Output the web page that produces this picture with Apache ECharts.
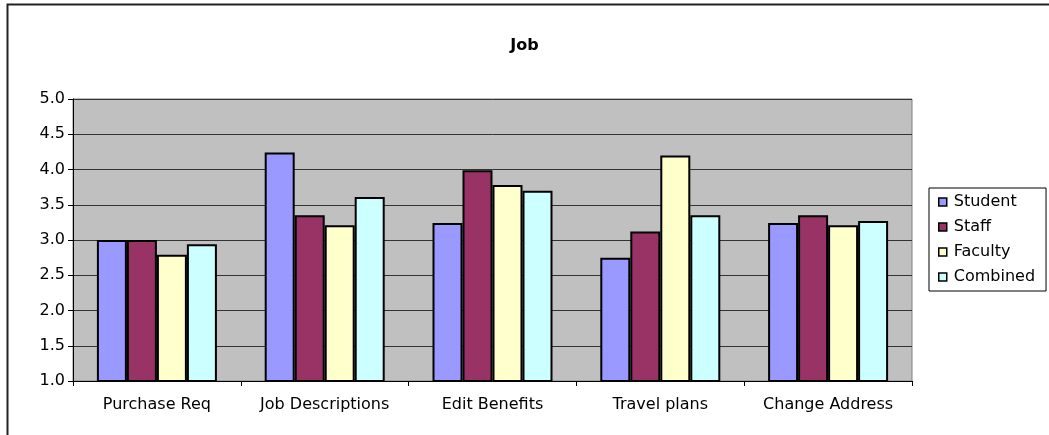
<!DOCTYPE html>
<html>
<head>
<meta charset="utf-8">
<script src="https://cdn.jsdelivr.net/npm/echarts@6/dist/echarts.min.js"></script>
<style>
  html, body { margin: 0; padding: 0; background: #fff; }
  #main { width: 1049px; height: 435px; }
</style>
</head>
<body>
<div id="main"></div>
<script>
// data
var categories = ['Purchase Req', 'Job Descriptions', 'Edit Benefits', 'Travel plans', 'Change Address'];
var student = [3.0, 4.24, 3.24, 2.75, 3.24];
var staff = [3.0, 3.35, 3.99, 3.12, 3.35];
var faculty = [2.79, 3.21, 3.78, 4.20, 3.21];
var combined = [2.94, 3.61, 3.70, 3.35, 3.27];

var font = 'DejaVu Sans, Verdana, sans-serif';

function bar(name, data, color) {
  return {
    name: name,
    type: 'bar',
    data: data,
    barWidth: 30,
    barGap: '0%',
    itemStyle: { color: color, borderColor: '#000', borderWidth: 2 }
  };
}

var myChart = echarts.init(document.getElementById('main'));
myChart.setOption({
  animation: false,
  backgroundColor: '#fff',
  title: {
    text: 'Job',
    left: 'center',
    top: 33,
    textStyle: { fontFamily: font, fontSize: 16, fontWeight: 'bold', color: '#000' }
  },
  graphic: [{
    type: 'rect',
    shape: { x: 7.5, y: 4.5, width: 1100, height: 500 },
    style: { fill: null, stroke: '#222', lineWidth: 2 },
    silent: true
  }],
  legend: {
    orient: 'vertical',
    left: 929,
    top: 188,
    itemWidth: 8,
    itemHeight: 8,
    itemGap: 9,
    padding: [6, 11, 6, 9],
    borderColor: '#000',
    borderWidth: 1,
    icon: 'rect',
    itemStyle: { borderColor: '#000', borderWidth: 1.5 },
    textStyle: { fontFamily: font, fontSize: 16, color: '#000', padding: [0, 0, 0, 2] },
    data: ['Student', 'Staff', 'Faculty', 'Combined']
  },
  grid: {
    left: 73,
    top: 99,
    width: 839,
    height: 282,
    show: true,
    backgroundColor: '#C0C0C0',
    borderColor: '#808080',
    borderWidth: 1
  },
  xAxis: {
    type: 'category',
    data: categories,
    axisLine: { lineStyle: { color: '#000', width: 1 } },
    axisTick: { show: true, interval: 0, inside: false, length: 5, lineStyle: { color: '#000' } },
    axisLabel: { interval: 0, fontFamily: font, fontSize: 16, color: '#000', margin: 16 }
  },
  yAxis: {
    type: 'value',
    min: 1.0,
    max: 5.0,
    interval: 0.5,
    axisLine: { show: true, lineStyle: { color: '#000' } },
    axisTick: { show: true, length: 5, lineStyle: { color: '#000' } },
    axisLabel: {
      fontFamily: font, fontSize: 16, color: '#000', margin: 8,
      formatter: function (v) { return v.toFixed(1); }
    },
    splitLine: { show: true, lineStyle: { color: '#333', width: 1 } }
  },
  series: [
    bar('Student', student, '#9999FF'),
    bar('Staff', staff, '#993366'),
    bar('Faculty', faculty, '#FFFFCC'),
    bar('Combined', combined, '#CCFFFF')
  ]
});
</script>
</body>
</html>
